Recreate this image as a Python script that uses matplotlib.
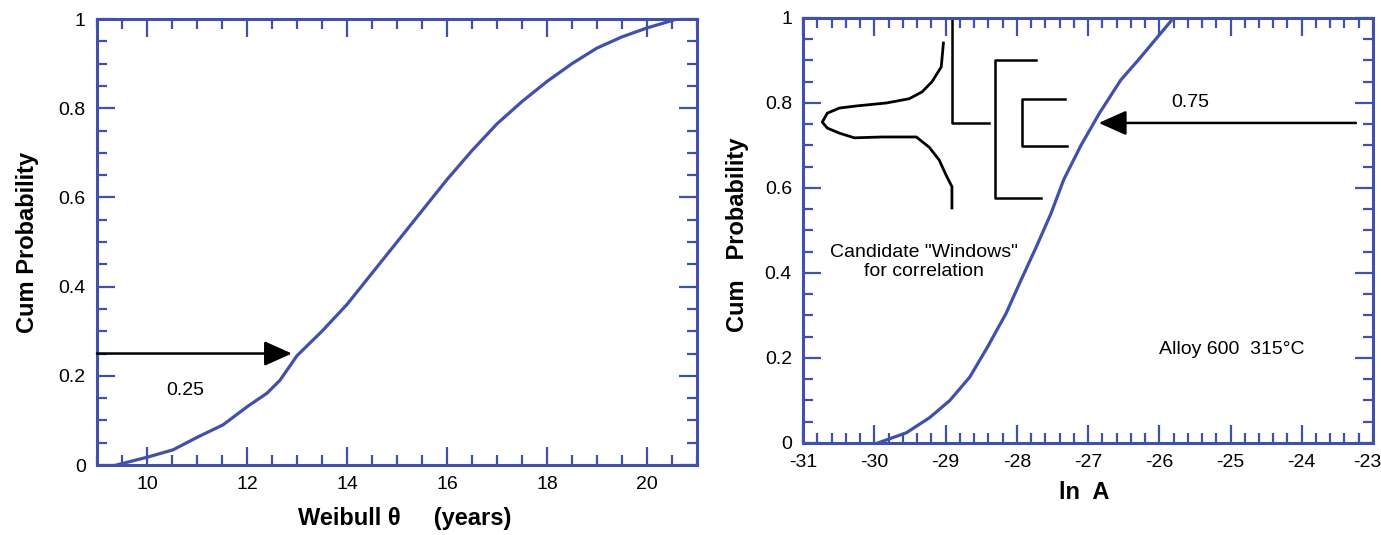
import numpy as np
import matplotlib
matplotlib.use('Agg')
import matplotlib.pyplot as plt
import matplotlib.transforms as mtransforms
from matplotlib.ticker import MultipleLocator, FuncFormatter

plt.rcParams['font.family'] = ['Liberation Sans', 'DejaVu Sans']
plt.rcParams['axes.unicode_minus'] = False

# Datos
theta_x = [9.39, 10.02, 10.52, 11.02, 11.52, 12.02, 12.4, 12.66, 13.0, 13.5, 14.0, 14.5,
           15.0, 15.5, 16.0, 16.5, 17.0, 17.5, 18.0, 18.5, 19.0, 19.5, 20.0, 20.3, 20.6]
theta_p = [0, 0.018, 0.034, 0.063, 0.09, 0.132, 0.161, 0.19, 0.245, 0.30, 0.36, 0.43,
           0.50, 0.57, 0.64, 0.705, 0.765, 0.815, 0.86, 0.90, 0.935, 0.96, 0.98, 0.99, 1.0]

lnA_x = [-29.95, -29.55, -29.22, -28.94, -28.66, -28.41, -28.15, -27.96, -27.73, -27.52,
         -27.34, -27.1, -26.84, -26.54, -26.3, -26.1, -25.95, -25.8]
lnA_p = [0, 0.024, 0.06, 0.10, 0.155, 0.226, 0.305, 0.376, 0.46, 0.54,
         0.62, 0.70, 0.776, 0.854, 0.90, 0.94, 0.97, 1.0]

# Esquema de la distribucion (inset, en coordenadas de datos del panel derecho)
dist_x = [-29.03, -29.06, -29.19, -29.33, -29.51, -29.83, -30.25, -30.49, -30.66, -30.73,
          -30.66, -30.49, -30.28, -29.89, -29.41, -29.23, -29.09, -28.98, -28.91, -28.91]
dist_y = [0.941, 0.885, 0.85, 0.826, 0.81, 0.80, 0.793, 0.788, 0.776, 0.755,
          0.741, 0.729, 0.718, 0.72, 0.72, 0.696, 0.666, 0.626, 0.603, 0.553]
stem_x = [-28.91, -28.91, -28.39]
stem_y = [1.0, 0.753, 0.753]
big_x = [-27.73, -28.31, -28.31, -27.66]
big_y = [0.90, 0.90, 0.576, 0.576]
small_x = [-27.32, -27.93, -27.93, -27.29]
small_y = [0.81, 0.81, 0.699, 0.699]

azul = '#3f51a8'


def estilo(ax, xmaj, xmin):
    for s in ax.spines.values():
        s.set_color(azul)
        s.set_linewidth(2.2)
    ax.xaxis.set_major_locator(MultipleLocator(xmaj))
    ax.xaxis.set_minor_locator(MultipleLocator(xmin))
    ax.yaxis.set_major_locator(MultipleLocator(0.2))
    ax.yaxis.set_minor_locator(MultipleLocator(0.05))
    ax.tick_params(which='both', direction='in', top=True, right=True, color=azul,
                   labelsize=14, labelcolor='black')
    ax.tick_params(which='major', length=13, width=1.6, pad=8)
    ax.tick_params(which='minor', length=7, width=1.6)
    ax.yaxis.set_major_formatter(FuncFormatter(lambda v, _: f'{v:g}'))
    ax.xaxis.set_major_formatter(FuncFormatter(lambda v, _: f'{v:g}'))
    ax.set_ylim(0, 1)


flecha = dict(arrowstyle='-|>,head_length=0.85,head_width=0.38',
              color='black', lw=1.8, mutation_scale=20, shrinkA=0, shrinkB=0)

fig = plt.figure(figsize=(13.81, 5.35), dpi=100)

# Panel izquierdo
ax1 = fig.add_axes([0.0702, 0.1308, 0.4345, 0.8336])
ax1.plot(theta_x, theta_p, color=azul, lw=2.3)
estilo(ax1, 2, 0.5)
ax1.set_xlim(9, 21)
ax1.annotate('', xy=(12.9, 0.25), xytext=(9, 0.25), arrowprops=flecha)
ax1.text(10.76, 0.168, '0.25', fontsize=14, ha='center', va='center')
ax1.set_ylabel('Cum Probability', fontsize=17, fontweight='bold')
ax1.yaxis.set_label_coords(-0.097, 0.5)
ax1.set_xlabel('Weibull θ     (years)', fontsize=17, fontweight='bold')
ax1.xaxis.set_label_coords(0.513, -0.094)

# Panel derecho
ax2 = fig.add_axes([0.5815, 0.172, 0.4127, 0.7944])
ax2.plot(lnA_x, lnA_p, color=azul, lw=2.3)
estilo(ax2, 1, 0.2)
ax2.set_xlim(-31, -23)
ax2.plot(dist_x, dist_y, color='black', lw=2)
ax2.plot(stem_x, stem_y, color='black', lw=1.8)
ax2.plot(big_x, big_y, color='black', lw=1.8)
ax2.plot(small_x, small_y, color='black', lw=1.8)
ax2.annotate('', xy=(-26.85, 0.753), xytext=(-23.24, 0.753), arrowprops=flecha)
ax2.text(-25.57, 0.80, '0.75', fontsize=14, ha='center', va='center')
ax2.text(-29.3, 0.426, 'Candidate "Windows"\nfor correlation', fontsize=14,
         ha='center', va='center')
ax2.text(-26.01, 0.219, 'Alloy 600  315°C', fontsize=14, ha='left', va='center')
ax2.set_ylabel('Cum   Probability', fontsize=17, fontweight='bold')
ax2.yaxis.set_label_coords(-0.095, 0.49)
ax2.set_xlabel('ln  A', fontsize=17, fontweight='bold')
ax2.xaxis.set_label_coords(0.494, -0.09)

# el ultimo rotulo (-23) se desplaza un poco a la izquierda para que quepa
fig.canvas.draw()
desplaza = mtransforms.ScaledTranslation(-6 / 100, 0, fig.dpi_scale_trans)
for lab in ax2.get_xticklabels():
    if lab.get_text() == '-23':
        lab.set_transform(lab.get_transform() + desplaza)

fig.savefig('out.png', dpi=100)
